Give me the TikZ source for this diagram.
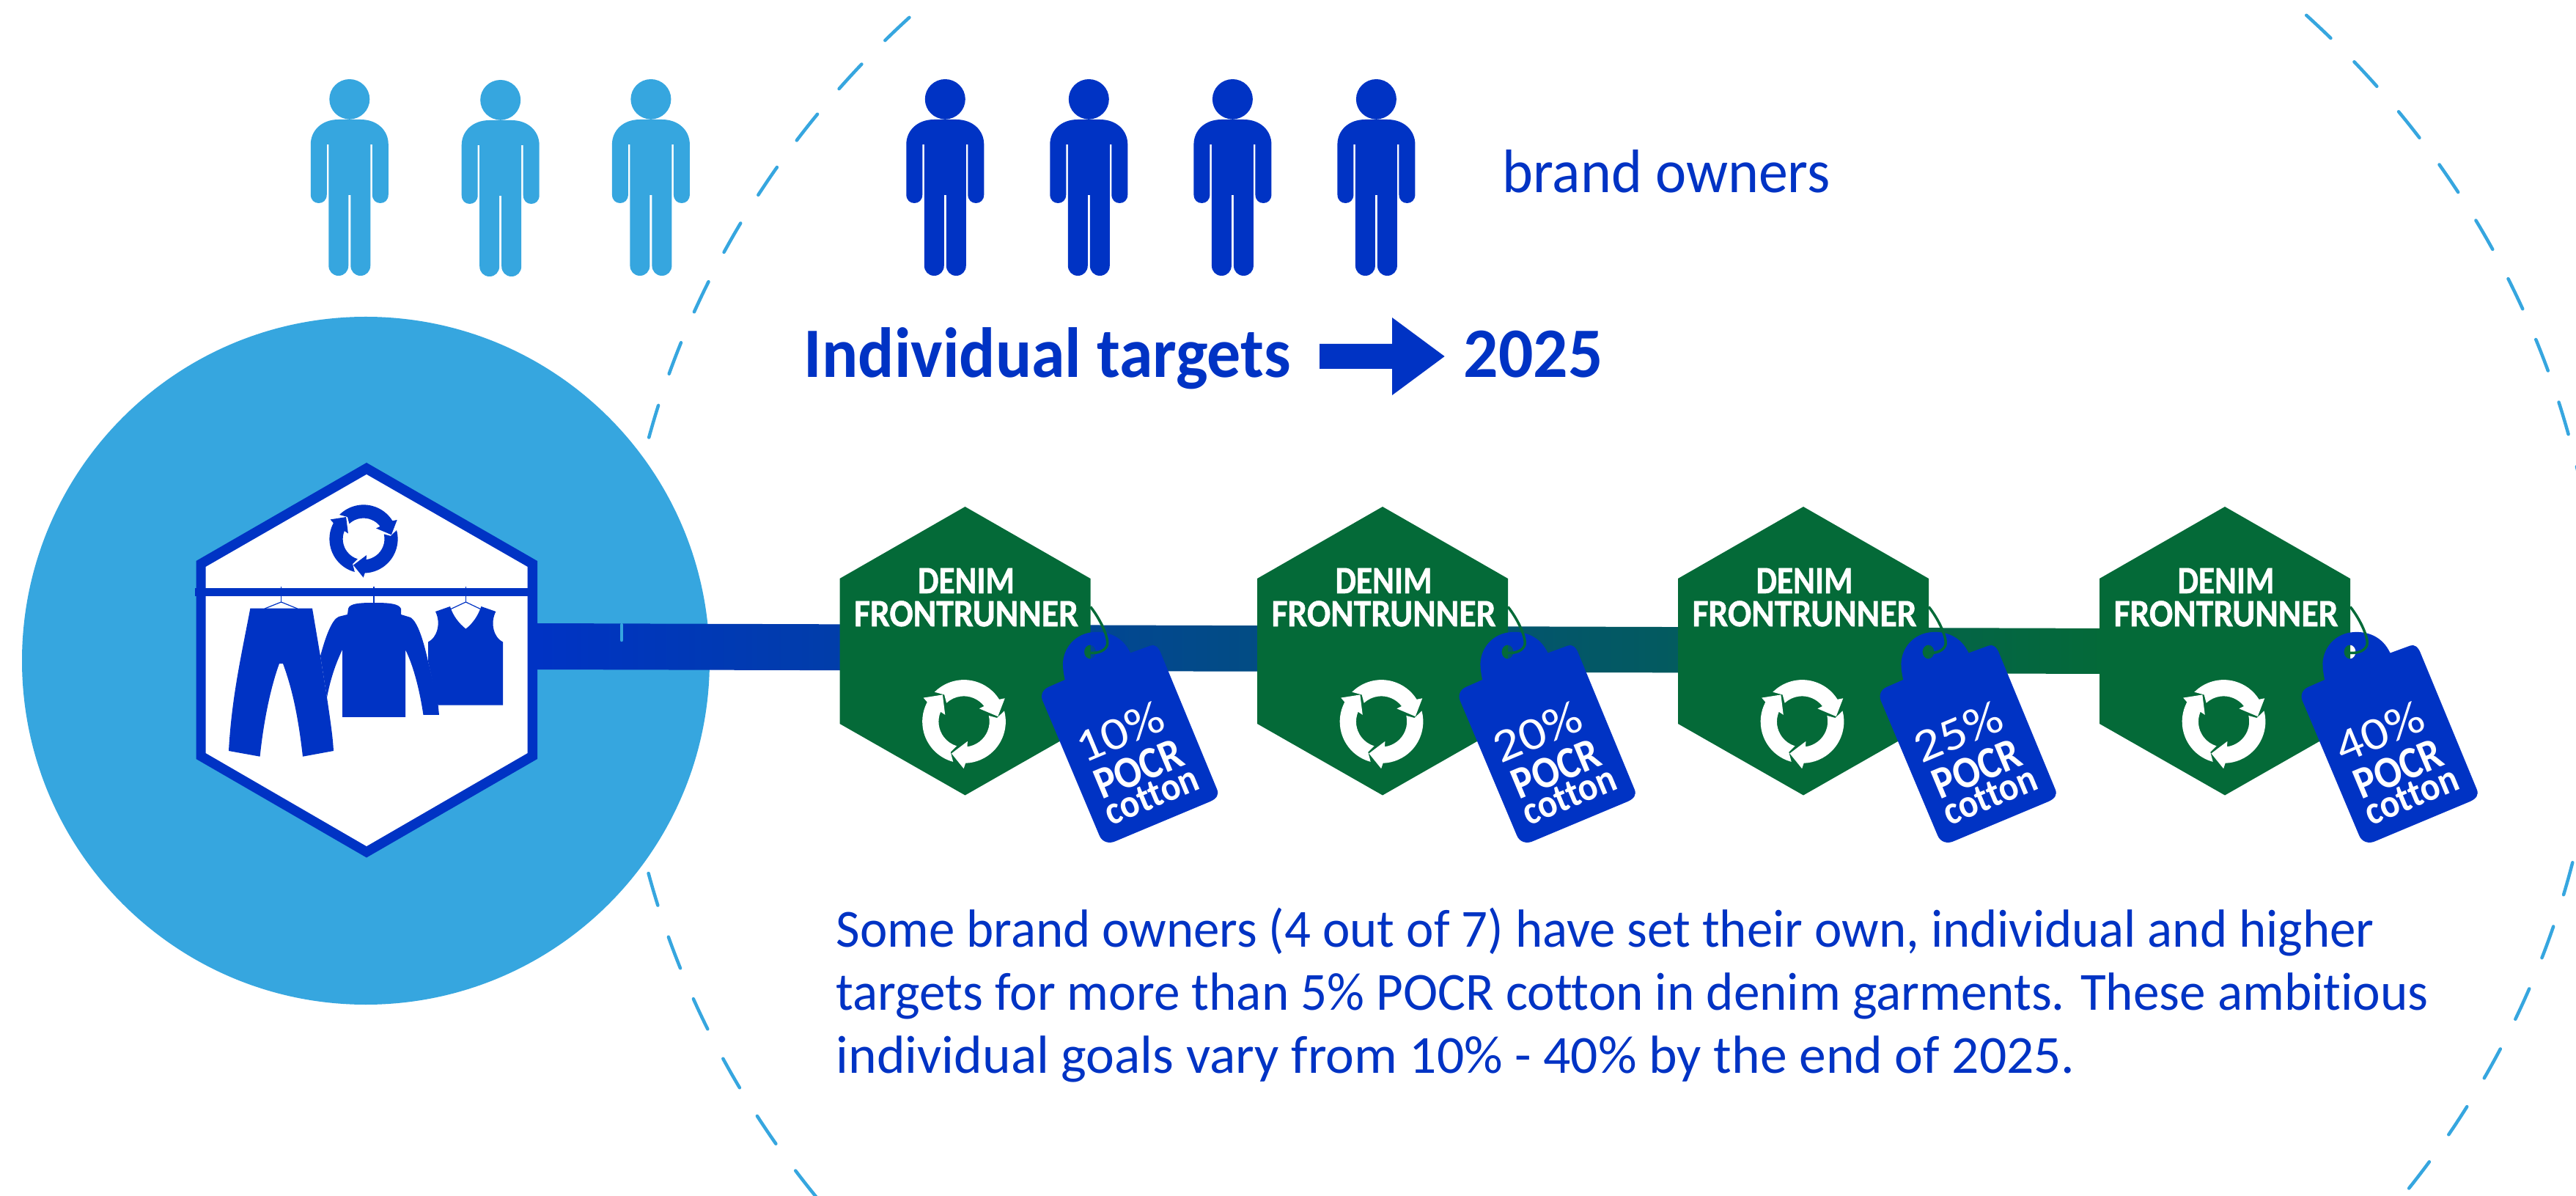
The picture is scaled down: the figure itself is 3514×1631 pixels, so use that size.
\documentclass[tikz,border=0pt]{standalone}
\usepackage{fontspec}
\usepackage{graphicx}
\setmainfont[Ligatures=NoCommon]{Carlito}
\newfontfamily\heavy[Ligatures=NoCommon,BoldFeatures={FakeBold=1}]{Carlito}
\definecolor{lblue}{HTML}{36A6DF}
\definecolor{dblue}{HTML}{0033C4}
\definecolor{dgreen}{HTML}{046A38}
\newlength\pxu
\setlength\pxu{0.01cm}
\newcommand\fitw[2]{\resizebox{#1\pxu}{\height}{#2}}
\newcommand\fsz[1]{\fontsize{#1}{#1}\selectfont}
\newcommand\personshape{
  (15,163) .. controls (38,163) and (53,178) .. (53,197) -- (53,265)
  .. controls (53,273) and (48,277) .. (42,277) .. controls (36,277) and (31,273) .. (31,265)
  -- (31,197) -- (28.5,197) -- (28.5,362)
  .. controls (28.5,370) and (23,376) .. (15,376) .. controls (7,376) and (1.5,370) .. (1.5,362)
  -- (1.5,266) -- (-1.5,266) -- (-1.5,362)
  .. controls (-1.5,370) and (-7,376) .. (-15,376) .. controls (-23,376) and (-28.5,370) .. (-28.5,362)
  -- (-28.5,197) -- (-31,197) -- (-31,265)
  .. controls (-31,273) and (-36,277) .. (-42,277) .. controls (-48,277) and (-53,273) .. (-53,265)
  -- (-53,197) .. controls (-53,178) and (-38,163) .. (-15,163) -- cycle
  (0,135.3) ellipse [x radius=27.5, y radius=27.3]
}
\newcommand\recycle[4]{%
  \begin{scope}[shift={(#1,#2)},scale=#3]
    \foreach \r in {0,120,240}{
      \fill[#4,rotate=\r]
        (-32.9,-33) arc[start angle=-135, end angle=-32, x radius=46.5, y radius=46.5]
        -- (45.7,-26) -- (37.9,-5.7) -- (17.1,-14.5) -- (22.5,-17.2)
        arc[start angle=-37.4, end angle=-133, x radius=28.5, y radius=28.5]
        -- (-22,-30) -- cycle;
    }
  \end{scope}}
\tikzset{
  goal/.style={inner sep=0,anchor=center,text=white,rotate=22.7},
  body/.style={inner sep=0,anchor=base west,text=dblue},
  head/.style={inner sep=0,anchor=base,text=white,font=\heavy\bfseries\fsz{15}},
  ring/.style={lblue,line width=0.045cm,line cap=round,dash pattern=on 0.455cm off 0.455cm},
}
\begin{document}
\begin{tikzpicture}[x=0.01cm,y=-0.01cm]
\useasboundingbox (0,0) rectangle (3514,1631);
\clip (0,0) rectangle (3514,1631);
\fill[white] (0,0) rectangle (3514,1631);

% dashed ring: one arc per visible stretch
\draw[ring] (2195,895) ++(-45.2:1350 and 1232)
  arc[start angle=-45.2, end angle=-10, x radius=1350, y radius=1232];
\draw[ring] (2195,895) ++(13.2:1350 and 1232)
  arc[start angle=13.2, end angle=38, x radius=1350, y radius=1232];
\draw[ring] (2195,895) ++(-135:1350 and 1232)
  arc[start angle=-135, end angle=-178, x radius=1350, y radius=1232];
\draw[ring] (2195,895) ++(166.1:1350 and 1232)
  arc[start angle=166.1, end angle=140, x radius=1350, y radius=1232];

% big circle
\fill[lblue] (499,901) circle [x radius=469, y radius=469];

% people
\foreach \x/\yy in {476.8/0,682.7/1,887.9/0}{
  \fill[lblue,shift={(\x,\yy)}] \personshape;
}
\foreach \x in {1289.3,1485.3,1681.4,1877.4}{
  \fill[dblue,shift={(\x,0)}] \personshape;
}

% gradient bar
\shade[left color=dblue,right color=dgreen]
  (733,850) -- (2880,857) -- (2880,919) -- (733,913) -- cycle;
\draw[lblue,line width=0.045cm,line cap=round] (848,852) -- (848,873);

% title texts
\node[body] (owners) at (2049,263) {\fsz{23.8}\fitw{447}{brand owners}};
\node[body] (indiv) at (1096,515) {\bfseries\fsz{27.5}\fitw{664}{Individual targets}};
\node[body] (year) at (1996,515) {\bfseries\fsz{27.5}\fitw{190}{2025}};
\fill[dblue] (1800,469) -- (1899,469) -- (1899,433) -- (1970.6,486) -- (1899,539) -- (1899,503) -- (1800,503) -- cycle;

% main hexagon
\fill[dblue] (500,631) -- (733,765) -- (733,1035) -- (500,1169.5) -- (267.5,1035) -- (267.5,765) -- cycle;
\fill[white] (500,647) -- (719.6,773) -- (719.6,1027) -- (500,1154) -- (280.7,1027) -- (280.7,773) -- cycle;
\fill[dblue] (265.7,802) rectangle (720,813.5);
\recycle{496}{735}{1}{dblue}
% hangers
\foreach \hx in {383.6,510,635.4}{
  \draw[dblue,line width=0.012cm] (\hx,800) -- (\hx,822);
}
\draw[dblue,line width=0.012cm] (361,830) -- (383.6,821) -- (405.7,830);
\draw[dblue,line width=0.012cm] (614,831) -- (635.4,821) -- (656.4,831);
% trousers
\fill[dblue] (341.4,829.6) -- (426,829.6) -- (437,894.7) -- (446,951) .. controls (451,985) and (454,1005) .. (455,1024)
  -- (413,1031.7) .. controls (406,970) and (397,935) .. (386,905) -- (381,905)
  .. controls (370,935) and (360,980) .. (354.6,1031.7) -- (312,1024) .. controls (316,950) and (330,890) .. cycle;
% jacket
\fill[dblue] (510,822) .. controls (490,822) and (477,823) .. (475,830) -- (474,838) -- (462,841)
  .. controls (452,845) and (443,872) .. (437,894.7) -- (446,951) .. controls (451,925) and (458,905) .. (467,886)
  -- (467,978) -- (553,978) -- (553,886) .. controls (565,910) and (573,945) .. (577.5,975) -- (599,975) -- (597,955)
  -- (584,902) .. controls (578,875) and (570,848) .. (560,842) -- (547,838) -- (547,830) .. controls (544,823) and (530,822) .. cycle;
% vest
\fill[dblue] (584,875.5) .. controls (596,870) and (602,850) .. (594,834) -- (614,827)
  .. controls (618,840) and (626,850) .. (635.4,857.6) .. controls (645,850) and (652,840) .. (656.4,827)
  -- (676.4,834) .. controls (668,850) and (674,870) .. (686,875.5) -- (686,961.6) -- (597.5,961.6) -- (584,902) -- cycle;

% frontrunner hexagons and tags
\foreach \n/\cx/\pct in {1/1316.5/10,2/1886/20,3/2460/25,4/3035/40}{
  \begin{scope}[shift={(\cx,0)}]
    \fill[dgreen] (0,691) -- (171,789) -- (171,987) -- (0,1084.5) -- (-171,987) -- (-171,789) -- cycle;
    \node[head] (denim\n) at (1.5,809) {\fitw{132}{DENIM}};
    \node[head] (front\n) at (1.5,854) {\fitw{306}{FRONTRUNNER}};
    \recycle{-1.5}{984}{1.22}{white}
    \fill[dblue,even odd rule]
      (136.2,927) -- (113.5,937) .. controls (105,941) and (102,949) .. (107,958.5)
      -- (183,1139) .. controls (187,1149) and (197,1151) .. (205.5,1147)
      -- (334.5,1093) .. controls (343,1089) and (347,1084) .. (343.5,1076)
      -- (267.5,892) .. controls (264,882) and (258,878) .. (252.5,880.6)
      -- (225.5,890.5) .. controls (215,868) and (195,861) .. (176.5,862)
      .. controls (150,863) and (132,885) .. (133.5,909) .. controls (134,916) and (135,922) .. cycle
      (170.5,889) ellipse [x radius=8, y radius=9.5];
    \draw[dgreen,line width=0.035cm] (171,827.5) .. controls (185,845) and (196,870) .. (194,879)
      .. controls (192,887) and (182,891) .. (171,890.5);
    \node[goal] (pct\n) at (211,998) {\fsz{18}\fitw{125}{\pct\%}};
    \node[goal] (pocr\n) at (236.6,1048) {\bfseries\fsz{17.5}\fitw{125}{POCR}};
    \node[goal] (cot\n) at (254.5,1085) {\bfseries\fsz{15.5}\fitw{134}{cotton}};
  \end{scope}
}

% body text
\node[body] (l1) at (1140,1291) {\fsz{20.8}\fitw{2098}{Some brand owners (4 out of 7) have set their own, individual and higher}};
\node[body] (l2) at (1140,1377) {\fsz{20.8}\fitw{2172}{targets for more than 5\% POCR cotton in denim garments. These ambitious}};
\node[body] (l3) at (1140,1463) {\fsz{20.8}\fitw{1690}{individual goals vary from 10\% - 40\% by the end of 2025.}};
\end{tikzpicture}
\end{document}
